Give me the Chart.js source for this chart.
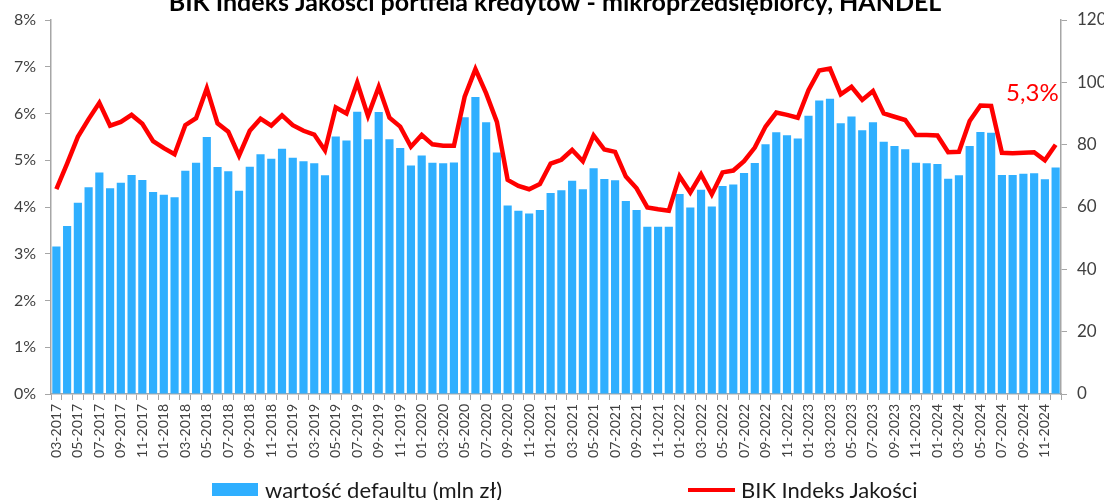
<!DOCTYPE html>
<html>
<head>
<meta charset="utf-8">
<script src="https://cdn.jsdelivr.net/npm/chart.js@4.4.1/dist/chart.umd.min.js"></script>
<style>
  html, body { margin: 0; padding: 0; width: 1104px; height: 500px; overflow: hidden; background: #fff; }
  #wrap { position: absolute; left: 0; top: -12px; width: 1110px; height: 512px; }
  .lg { position: absolute; font-family: Lato, sans-serif; font-size: 22px; color: #1a1a1a; line-height: 24px; white-space: nowrap; }
  .sw { position: absolute; }
</style>
</head>
<body>
<div id="wrap"><canvas id="c" width="1110" height="512"></canvas></div>
<div class="sw" style="left:212px;top:483px;width:46px;height:13px;background:#2fafff;"></div>
<div class="lg" style="left:265px;top:478px;">wartość defaultu (mln zł)</div>
<div class="sw" style="left:688px;top:488px;width:47px;height:4px;background:#ff0000;"></div>
<div class="lg" style="left:741px;top:478px;">BIK Indeks Jakości</div>
<script>
const titleText = 'BIK Indeks Jakości portfela kredytów - mikroprzedsiębiorcy, HANDEL';
const barLabel = 'wartość defaultu (mln zł)';
const lineLabel = 'BIK Indeks Jakości';

const months = [
  '03-2017','04-2017','05-2017','06-2017','07-2017','08-2017','09-2017','10-2017','11-2017','12-2017',
  '01-2018','02-2018','03-2018','04-2018','05-2018','06-2018','07-2018','08-2018','09-2018','10-2018','11-2018','12-2018',
  '01-2019','02-2019','03-2019','04-2019','05-2019','06-2019','07-2019','08-2019','09-2019','10-2019','11-2019','12-2019',
  '01-2020','02-2020','03-2020','04-2020','05-2020','06-2020','07-2020','08-2020','09-2020','10-2020','11-2020','12-2020',
  '01-2021','02-2021','03-2021','04-2021','05-2021','06-2021','07-2021','08-2021','09-2021','10-2021','11-2021','12-2021',
  '01-2022','02-2022','03-2022','04-2022','05-2022','06-2022','07-2022','08-2022','09-2022','10-2022','11-2022','12-2022',
  '01-2023','02-2023','03-2023','04-2023','05-2023','06-2023','07-2023','08-2023','09-2023','10-2023','11-2023','12-2023',
  '01-2024','02-2024','03-2024','04-2024','05-2024','06-2024','07-2024','08-2024','09-2024','10-2024','11-2024','12-2024'
];

const defaultValue = [
  47.3, 53.9, 61.4, 66.3, 71.1, 66.0, 67.8, 70.3, 68.7, 64.8, 63.9, 63.1, 71.6, 74.2, 82.5, 72.8,
  71.5, 65.2, 72.9, 76.9, 75.5, 78.7, 75.8, 74.7, 74.0, 70.2, 82.6, 81.3, 90.6, 81.7, 90.5, 81.7,
  78.9, 73.3, 76.5, 74.2, 74.0, 74.3, 88.8, 95.3, 87.2, 77.5, 60.5, 58.8, 57.9, 59.0, 64.5, 65.4,
  68.4, 65.7, 72.4, 69.0, 68.6, 61.9, 59.0, 53.7, 53.7, 53.7, 64.2, 59.8, 65.5, 60.2, 66.7, 67.2,
  70.9, 74.1, 80.1, 84.0, 83.0, 82.0, 89.3, 94.2, 94.7, 86.9, 89.0, 84.6, 87.2, 80.9, 79.6, 78.5,
  74.2, 74.0, 73.8, 69.1, 70.2, 79.6, 84.1, 83.8, 70.3, 70.3, 70.7, 70.8, 68.9, 72.7
];

const qualityIndex = [
  4.38, 4.93, 5.50, 5.88, 6.23, 5.74, 5.82, 5.97, 5.78, 5.41, 5.26, 5.13, 5.75, 5.90, 6.54, 5.79,
  5.61, 5.10, 5.63, 5.89, 5.74, 5.96, 5.75, 5.63, 5.55, 5.21, 6.13, 6.00, 6.66, 5.95, 6.57, 5.91,
  5.72, 5.29, 5.54, 5.34, 5.31, 5.31, 6.36, 6.95, 6.43, 5.82, 4.58, 4.45, 4.38, 4.49, 4.93, 5.01,
  5.22, 4.98, 5.53, 5.23, 5.18, 4.65, 4.40, 3.99, 3.95, 3.92, 4.66, 4.31, 4.70, 4.27, 4.74, 4.78,
  4.98, 5.27, 5.72, 6.02, 5.97, 5.91, 6.50, 6.92, 6.96, 6.41, 6.57, 6.29, 6.48, 6.00, 5.93, 5.86,
  5.54, 5.54, 5.53, 5.17, 5.18, 5.84, 6.17, 6.16, 5.16, 5.15, 5.16, 5.17, 5.00, 5.33
];

const leftTicks = [0, 1, 2, 3, 4, 5, 6, 7, 8];
const rightTicks = [0, 20, 40, 60, 80, 100, 120];

const axisColor = '#a6a6a6';
const tickColor = '#404040';

const endLabel = {
  id: 'endLabel',
  afterDatasetsDraw(chart) {
    const meta = chart.getDatasetMeta(0);
    const pts = meta.data;
    const last = pts[pts.length - 1];
    const v = qualityIndex[qualityIndex.length - 1];
    const ctx = chart.ctx;
    ctx.save();
    ctx.fillStyle = '#ff0000';
    ctx.font = '24px Lato, sans-serif';
    ctx.textAlign = 'right';
    ctx.textBaseline = 'middle';
    ctx.fillText(v.toFixed(1).replace('.', ',') + '%', last.x + 3, last.y - 52);
    ctx.restore();
  }
};

new Chart(document.getElementById('c'), {
  type: 'bar',
  data: {
    labels: months,
    datasets: [
      {
        type: 'line',
        label: lineLabel,
        data: qualityIndex,
        yAxisID: 'y',
        borderColor: '#ff0000',
        backgroundColor: '#ff0000',
        borderWidth: 4.5,
        pointRadius: 0,
        tension: 0,
        order: 0
      },
      {
        type: 'bar',
        label: barLabel,
        data: defaultValue,
        yAxisID: 'y2',
        backgroundColor: '#2fafff',
        borderWidth: 0,
        categoryPercentage: 1.0,
        barPercentage: 0.76,
        order: 1
      }
    ]
  },
  options: {
    responsive: false,
    devicePixelRatio: 1,
    animation: false,
    layout: { padding: { left: 0, right: 0, top: 0, bottom: 0 } },
    plugins: {
      legend: { display: false },
      tooltip: { enabled: false },
      title: {
        display: true,
        text: titleText,
        color: '#000',
        font: { family: 'Lato', size: 25, weight: 'bold' },
        padding: { top: 0, bottom: 2 }
      }
    },
    scales: {
      x: {
        offset: true,
        grid: { display: true, drawOnChartArea: false, offset: true, color: axisColor, tickLength: 6, tickColor: axisColor },
        border: { display: true, color: axisColor, width: 1.5 },
        ticks: {
          autoSkip: false,
          maxRotation: 90,
          minRotation: 90,
          padding: 4,
          color: tickColor,
          font: { family: 'Lato', size: 14 },
          callback: function (val, idx) { return idx % 2 === 0 ? months[idx] : ''; }
        },
        afterFit: function (s) { s.height = 106; }
      },
      y: {
        position: 'left',
        min: 0, max: 8,
        afterBuildTicks: function (s) { s.ticks = leftTicks.map(v => ({ value: v })); },
        grid: { display: true, drawOnChartArea: false, color: axisColor, tickLength: 6, tickColor: axisColor },
        border: { display: true, color: axisColor, width: 1.5 },
        ticks: {
          padding: 9,
          color: tickColor,
          font: { family: 'Lato', size: 16 },
          callback: function (v) { return v + '%'; }
        },
        afterFit: function (s) { s.width = 51; }
      },
      y2: {
        position: 'right',
        min: 0, max: 120,
        afterBuildTicks: function (s) { s.ticks = rightTicks.map(v => ({ value: v })); },
        grid: { display: true, drawOnChartArea: false, color: axisColor, tickLength: 6, tickColor: axisColor },
        border: { display: true, color: axisColor, width: 1.5 },
        ticks: {
          padding: 10,
          color: tickColor,
          font: { family: 'Lato', size: 17 }
        },
        afterFit: function (s) { s.width = 49; }
      }
    }
  },
  plugins: [endLabel]
});
</script>
</body>
</html>
